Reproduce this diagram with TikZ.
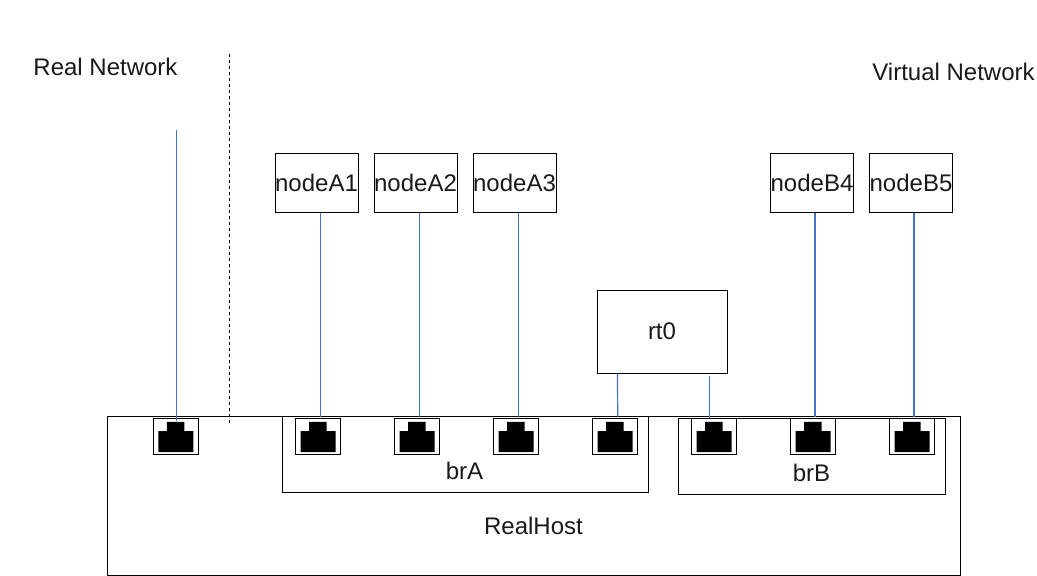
\documentclass[tikz,border=0pt]{standalone}
\usepackage{fontspec}
\setmainfont{Liberation Sans}
\usetikzlibrary{arrows}

\definecolor{linkblue}{HTML}{4472C4}

\begin{document}
\begin{tikzpicture}[x=1pt, y=-1pt, line width=1pt, node distance=99pt, every node/.style={font=\fontsize{24}{28}\selectfont, text=black!90, inner sep=0pt}, vm node/.style={draw, minimum width=83pt, minimum height=59pt}, port node/.style={draw, minimum width=45pt, minimum height=36pt, path picture={\fill (path picture bounding box.center) ++(-9,-14.5) -- ++(17.5,0) -- ++(0,9.2) -- ++(9,0) -- ++(0,21) -- ++(-35,0) -- ++(0,-21) -- ++(8.5,0) -- cycle;}}, link/.style={draw=linkblue, line width=1.2pt}] %pixels of the reference, y runs downwards
\useasboundingbox (0,0) rectangle (1037,576);
\draw (107.5,416.5) coordinate (hostNW) rectangle (960.5,575.5);
\draw (282.5,416.5) -- (282.5,492) -- (648.5,492) -- (648.5,416.5);
\draw (678.5,418.5) rectangle (945.5,494);
\coordinate (realEnd) at (176.5,130);
\coordinate (dashTop) at (229.5,54);
\coordinate (dashEnd) at (229.5,423);
\draw[dashed] (dashTop) -- (dashEnd);
\node(realLabel) at (105.5,67){Real Network};
\node(virtLabel) at (953.5,72){Virtual Network};
\node(hostLabel) at (533.5,526){RealHost};
\node(brALabel) at (464.5,471){brA};
\node(brBLabel) at (811.5,473){brB};
\node[vm node](nodeA1) at (316.5,182.5){nodeA1};
\node[vm node](nodeA2)[right of=nodeA1]{nodeA2};
\node[vm node](nodeA3)[right of=nodeA2]{nodeA3};
\node[vm node](nodeB4) at (812,182.5){nodeB4};
\node[vm node](nodeB5)[right of=nodeB4]{nodeB5};
\node[draw, minimum width=130pt, minimum height=83pt](rt0) at (662,331.5){rt0};
\node[port node](portR) at (175.8,436.3){};
\node[port node](portA1) at (318,436.3){};
\node[port node](portA2)[right of=portA1]{};
\node[port node](portA3)[right of=portA2]{};
\node[port node](portA4)[right of=portA3]{};
\node[port node](portB1) at (714,436.3){};
\node[port node](portB2)[right of=portB1]{};
\node[port node](portB3)[right of=portB2]{};
\draw[link] (realEnd) -- ([xshift=.7pt,yshift=-3.5pt]portR.north);
\draw[link] ([xshift=4pt]nodeA1.south) -- ([xshift=4pt]nodeA1.south |- hostNW);
\draw[link] ([xshift=4pt]nodeA2.south) -- ([xshift=4pt]nodeA2.south |- hostNW);
\draw[link] ([xshift=4pt]nodeA3.south) -- ([xshift=4pt]nodeA3.south |- hostNW);
\draw[link] ([xshift=3pt]nodeB4.south) -- ([xshift=3pt]nodeB4.south |- hostNW);
\draw[link] ([xshift=3pt]nodeB5.south) -- ([xshift=3pt]nodeB5.south |- hostNW);
\draw[link] ([xshift=-44.5pt]rt0.south) -- ([xshift=2.7pt]portA4.north |- hostNW);
\draw[link] ([xshift=47.5pt,yshift=-2pt]rt0.south) -- ([xshift=-4.5pt]portB1.north);
\end{tikzpicture}
\end{document}
